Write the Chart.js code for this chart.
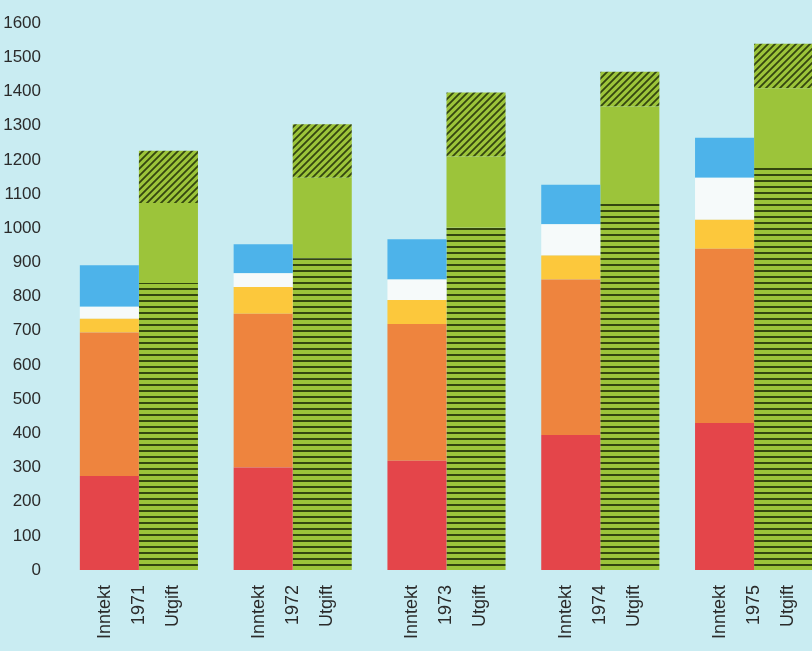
<!DOCTYPE html>
<html>
<head>
<meta charset="utf-8">
<title>Inntekt og utgift 1971–1975</title>
<script src="https://cdn.jsdelivr.net/npm/chart.js@4.4.1/dist/chart.umd.min.js"></script>
<style>
  html, body { margin: 0; padding: 0; background: #c9ecf2; overflow: hidden; }
  #wrap { position: relative; width: 831px; height: 651px; }
  canvas { display: block; }
</style>
</head>
<body>
<div id="wrap"><canvas id="budgetChart" width="831" height="651"></canvas></div>
<script>
// Years and the two columns drawn for each year
const years = ["1971", "1972", "1973", "1974", "1975"];
const columnNames = ["Inntekt", "Utgift"];

// Inntekt, stacked from the bottom
const innRed    = [275, 300, 320, 395, 430];
const innOrange = [420, 450, 400, 455, 510];
const innYellow = [40, 78, 70, 70, 85];
const innWhite  = [35, 40, 60, 92, 123];
const innBlue   = [122, 85, 118, 115, 117];

// Utgift, stacked from the bottom
const utgLined    = [840, 912, 1002, 1077, 1188];
const utgPlain    = [234, 236, 208, 279, 222];
const utgStriped  = [153, 156, 187, 102, 130];

// y axis: 0 .. 1600 in steps of 100
const yMax = 1600;
const yStep = 100;

const GREEN = "#9cc43a";
const HATCH = "#34460f";
const FONT = "'Liberation Sans', Arial, sans-serif";

// horizontal lines on green
function lineFill() {
  const c = document.createElement("canvas");
  c.width = 8; c.height = 6;
  const g = c.getContext("2d");
  g.fillStyle = GREEN;
  g.fillRect(0, 0, 8, 6);
  g.fillStyle = HATCH;
  g.fillRect(0, 0, 8, 2);
  return g.createPattern(c, "repeat");
}

// "/" stripes on green
function stripeFill() {
  const s = 7;
  const c = document.createElement("canvas");
  c.width = s; c.height = s;
  const g = c.getContext("2d");
  g.fillStyle = GREEN;
  g.fillRect(0, 0, s, s);
  g.strokeStyle = HATCH;
  g.lineWidth = 1.8;
  g.beginPath();
  g.moveTo(-1, s + 1); g.lineTo(s + 1, -1);
  g.moveTo(-1, 1); g.lineTo(1, -1);
  g.moveTo(s - 1, s + 1); g.lineTo(s + 1, s - 1);
  g.stroke();
  return g.createPattern(c, "repeat");
}

function bar(label, data, color, stack) {
  return {
    label, data, stack,
    backgroundColor: color,
    borderWidth: 0,
    categoryPercentage: 0.768,
    barPercentage: 1.0
  };
}

const ctx = document.getElementById("budgetChart");

new Chart(ctx, {
  type: "bar",
  data: {
    labels: years,
    datasets: [
      bar("Inntekt 1", innRed, "#e4454a", "inntekt"),
      bar("Inntekt 2", innOrange, "#ee843e", "inntekt"),
      bar("Inntekt 3", innYellow, "#fcc83c", "inntekt"),
      bar("Inntekt 4", innWhite, "#f6fafa", "inntekt"),
      bar("Inntekt 5", innBlue, "#4db3ea", "inntekt"),
      bar("Utgift 1", utgLined, lineFill(), "utgift"),
      bar("Utgift 2", utgPlain, GREEN, "utgift"),
      bar("Utgift 3", utgStriped, stripeFill(), "utgift")
    ]
  },
  options: {
    responsive: false,
    animation: false,
    layout: { padding: { top: 23, right: 0, bottom: 0, left: 0 } },
    scales: {
      x: {
        stacked: true,
        grid: { display: false },
        border: { display: false },
        ticks: {
          autoSkip: false,
          maxRotation: 90,
          minRotation: 90,
          labelOffset: -34,
          padding: 7,
          color: "#2b2b2b",
          font: { family: FONT, size: 18, lineHeight: "34px" },
          callback: (v, i) => [columnNames[0], years[i], columnNames[1]]
        },
        afterFit: scale => {
          // keep the rotated labels from shrinking the plot sideways
          scale.height = 81;
          scale.paddingLeft = 0;
          scale.paddingRight = 0;
        }
      },
      y: {
        stacked: true,
        min: 0,
        max: yMax,
        grid: { display: false },
        border: { display: false },
        ticks: {
          stepSize: yStep,
          padding: 13,
          color: "#2b2b2b",
          font: { family: FONT, size: 17 },
          callback: v => String(v)
        },
        afterFit: scale => { scale.width = 62; }
      }
    },
    plugins: {
      legend: { display: false },
      tooltip: { enabled: false }
    }
  }
});
</script>
</body>
</html>
